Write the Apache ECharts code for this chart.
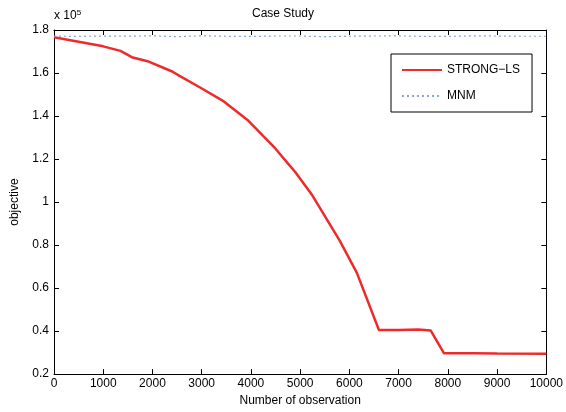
<!DOCTYPE html>
<html>
<head>
<meta charset="utf-8">
<script src="https://cdn.jsdelivr.net/npm/echarts@6/dist/echarts.min.js"></script>
<style>html,body{margin:0;padding:0;background:#fff}#c{width:566px;height:412px}</style>
</head>
<body>
<div id="c"></div>
<script>
var titleText = 'Case Study';
var xName = 'Number of observation';
var yName = 'objective';
var seriesNames = ['STRONG\u2212LS', 'MNM'];
var xTicks = [0, 1000, 2000, 3000, 4000, 5000, 6000, 7000, 8000, 9000, 10000];
var yTicks = [0.2, 0.4, 0.6, 0.8, 1, 1.2, 1.4, 1.6, 1.8];

var strongX = [0, 500, 1000, 1350, 1600, 1900, 2400, 2550, 2950, 3450, 3950, 4500, 4750, 4900, 5250, 5800, 6150, 6600, 7000, 7400, 7650, 7920, 8500, 9000, 10000];
var strongY = [176600, 174500, 172400, 170300, 167200, 165500, 160700, 158700, 153500, 146800, 137800, 124800, 118000, 114000, 103000, 82200, 67200, 40500, 40500, 40700, 40300, 29700, 29700, 29600, 29500];

var mnmX = [0, 500, 1000, 1500, 2000, 2500, 3000, 3500, 4000, 4500, 5000, 5500, 6000, 6500, 7000, 7500, 8000, 8500, 9000, 9500, 10000];
var mnmY = [177200, 177000, 177200, 177100, 177300, 176900, 177300, 177100, 177000, 177200, 177200, 176900, 177100, 177200, 177300, 177000, 177000, 177300, 177200, 177100, 177100];

function zip(a, b) { return a.map(function (v, i) { return [v, b[i]]; }); }

var font = 'Liberation Sans, Arial, sans-serif';
var chart = echarts.init(document.getElementById('c'));
var axisLine = { show: true, onZero: false, lineStyle: { color: '#000', width: 1 } };
var tick = { show: true, inside: true, length: 5, lineStyle: { color: '#000' } };
chart.setOption({
  animation: false,
  title: { text: titleText, left: 'center', top: 3, textStyle: { fontFamily: font, fontSize: 12, fontWeight: 'normal', color: '#000' } },
  grid: { left: 54, right: 18, top: 30, bottom: 35 },
  legend: {
    orient: 'vertical', left: 391, top: 54, width: 137,
    itemWidth: 40, itemHeight: 12, itemGap: 14,
    padding: [10, 12, 10, 10],
    borderColor: '#000', borderWidth: 1, backgroundColor: '#fff',
    itemStyle: { opacity: 0 },
    textStyle: { fontFamily: font, fontSize: 12, color: '#000' },
    data: seriesNames
  },
  graphic: [{
    type: 'text', left: 54, top: 9,
    style: { text: 'x 10{s|5}', rich: { s: { fontSize: 8, verticalAlign: 'top', fontFamily: font, padding: [0, 0, 6, 0] } }, fontFamily: font, fontSize: 12, fill: '#000' }
  }],
  xAxis: [{
    type: 'value', min: 0, max: 10000, interval: 1000,
    name: xName, nameLocation: 'middle', nameGap: 18,
    nameTextStyle: { fontFamily: font, fontSize: 12, color: '#000' },
    axisLine: axisLine, axisTick: tick, splitLine: { show: false },
    axisLabel: { fontFamily: font, fontSize: 12, color: '#000', margin: 4, showMaxLabel: true, formatter: function (v) { return String(v); } }
  }, {
    type: 'value', min: 0, max: 10000, interval: 1000, position: 'top',
    axisLine: axisLine, axisTick: tick, splitLine: { show: false }, axisLabel: { show: false }
  }],
  yAxis: [{
    type: 'value', min: 20000, max: 180000, interval: 20000,
    name: yName, nameLocation: 'middle', nameGap: 33,
    nameTextStyle: { fontFamily: font, fontSize: 12, color: '#000' },
    axisLine: axisLine, axisTick: tick, splitLine: { show: false },
    axisLabel: { fontFamily: font, fontSize: 12, color: '#000', margin: 5, formatter: function (v) { return String(+(v / 1e5).toFixed(2)); } }
  }, {
    type: 'value', min: 20000, max: 180000, interval: 20000, position: 'right',
    axisLine: axisLine, axisTick: tick, splitLine: { show: false }, axisLabel: { show: false }
  }],
  series: [{
    name: seriesNames[0], type: 'line', data: zip(strongX, strongY),
    showSymbol: false, symbol: 'none', lineStyle: { color: '#ee2b2b', width: 2.5 }, itemStyle: { color: '#ee2b2b' }
  }, {
    name: seriesNames[1], type: 'line', data: zip(mnmX, mnmY),
    showSymbol: false, symbol: 'none', lineStyle: { color: '#8aa4d6', width: 1.2, type: [2, 3] }, itemStyle: { color: '#8aa4d6' }
  }]
});
</script>
</body>
</html>
